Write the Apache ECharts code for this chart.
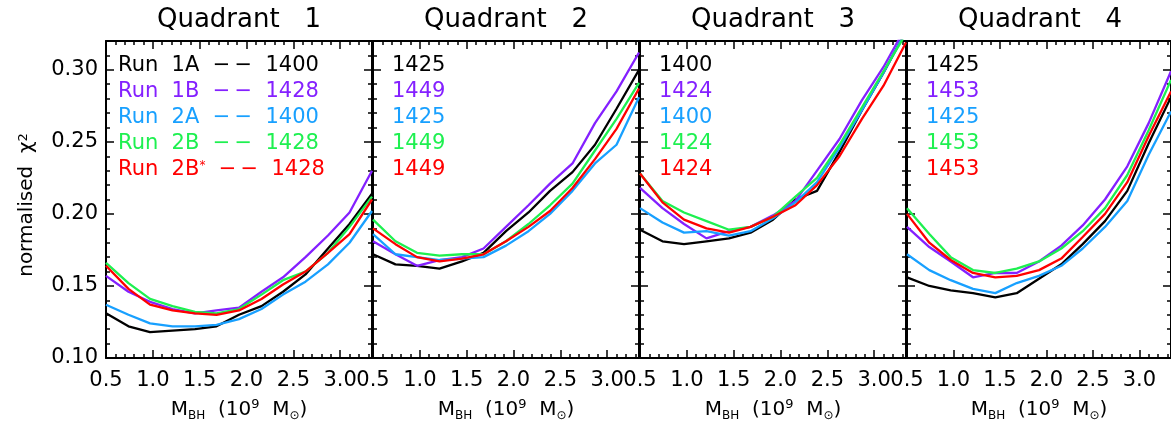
<!DOCTYPE html>
<html>
<head>
<meta charset="utf-8">
<script src="https://cdn.jsdelivr.net/npm/echarts@6/dist/echarts.min.js"></script>
<style>
html, body { margin: 0; padding: 0; background: #fff; }
#chart { width: 1171px; height: 427px; }
</style>
</head>
<body>
<div id="chart"></div>
<script>
// black hole mass grid (10^9 Msun)
var mass = [0.50, 0.74, 0.97, 1.21, 1.45, 1.68, 1.92, 2.16, 2.39, 2.63, 2.87, 3.10, 3.34];

var runs = ['1A', '1B', '2A', '2B', '2B'];
var colors = ['#000000', '#8420ff', '#18a0ff', '#1ef050', '#ff0000'];

// normalised chi^2, one row per run (1A, 1B, 2A, 2B, 2B*)
var quad1 = [
  [0.131, 0.122, 0.118, 0.119, 0.120, 0.122, 0.130, 0.136, 0.146, 0.158, 0.176, 0.193, 0.214],
  [0.157, 0.146, 0.139, 0.134, 0.131, 0.133, 0.135, 0.146, 0.156, 0.170, 0.185, 0.201, 0.230],
  [0.137, 0.130, 0.124, 0.122, 0.122, 0.123, 0.127, 0.134, 0.144, 0.153, 0.165, 0.180, 0.202],
  [0.166, 0.152, 0.141, 0.136, 0.132, 0.131, 0.134, 0.144, 0.154, 0.160, 0.173, 0.191, 0.212],
  [0.164, 0.148, 0.137, 0.133, 0.131, 0.130, 0.133, 0.141, 0.151, 0.160, 0.173, 0.186, 0.210]
];
var quad2 = [
  [0.172, 0.165, 0.164, 0.162, 0.167, 0.173, 0.188, 0.201, 0.216, 0.229, 0.248, 0.273, 0.300],
  [0.181, 0.172, 0.164, 0.168, 0.170, 0.176, 0.191, 0.206, 0.221, 0.235, 0.263, 0.285, 0.312],
  [0.186, 0.172, 0.170, 0.168, 0.169, 0.170, 0.178, 0.188, 0.200, 0.216, 0.235, 0.248, 0.281],
  [0.196, 0.181, 0.173, 0.171, 0.172, 0.172, 0.181, 0.193, 0.206, 0.221, 0.244, 0.266, 0.291],
  [0.190, 0.179, 0.170, 0.167, 0.169, 0.172, 0.181, 0.191, 0.202, 0.218, 0.238, 0.259, 0.287]
];
var quad3 = [
  [0.189, 0.181, 0.179, 0.181, 0.183, 0.187, 0.196, 0.210, 0.216, 0.243, 0.272, 0.298, 0.327],
  [0.218, 0.204, 0.193, 0.183, 0.188, 0.191, 0.199, 0.209, 0.230, 0.252, 0.279, 0.302, 0.330],
  [0.204, 0.194, 0.187, 0.188, 0.185, 0.188, 0.197, 0.208, 0.222, 0.246, 0.272, 0.298, 0.327],
  [0.228, 0.209, 0.201, 0.195, 0.189, 0.191, 0.198, 0.212, 0.225, 0.248, 0.274, 0.299, 0.325],
  [0.228, 0.208, 0.196, 0.190, 0.187, 0.191, 0.198, 0.206, 0.220, 0.240, 0.266, 0.289, 0.319]
];
var quad4 = [
  [0.156, 0.150, 0.147, 0.145, 0.142, 0.145, 0.155, 0.165, 0.179, 0.195, 0.216, 0.249, 0.281],
  [0.191, 0.177, 0.167, 0.156, 0.159, 0.159, 0.167, 0.178, 0.192, 0.210, 0.233, 0.263, 0.299],
  [0.172, 0.161, 0.154, 0.148, 0.145, 0.152, 0.157, 0.164, 0.176, 0.191, 0.209, 0.241, 0.271],
  [0.204, 0.186, 0.170, 0.161, 0.159, 0.162, 0.167, 0.176, 0.188, 0.204, 0.227, 0.258, 0.293],
  [0.200, 0.180, 0.168, 0.159, 0.156, 0.157, 0.161, 0.169, 0.184, 0.200, 0.222, 0.254, 0.285]
];
var quads = [quad1, quad2, quad3, quad4];

// best-fit mass labels written in each panel
var bestQ1 = ['1400', '1428', '1400', '1428', '1428'];
var bestQ2 = ['1425', '1449', '1425', '1449', '1449'];
var bestQ3 = ['1400', '1424', '1400', '1424', '1424'];
var bestQ4 = ['1425', '1453', '1425', '1453', '1453'];
var bests = [bestQ1, bestQ2, bestQ3, bestQ4];

var xTicks = { min: 0.5, max: 3.34, major: 0.5, minor: 0.1 };
var yTicks = { min: 0.10, max: 0.32, major: 0.05, minor: 0.01 };

var FONT = 'DejaVu Sans';
var panelLeft = [106, 373, 640, 907];
var panelW = 266, panelTop = 41, panelH = 321;

var grids = [], xAxes = [], yAxes = [], series = [], graphics = [];

function xAx(g, pos, major) {
  var ax = {
    type: 'value', gridIndex: g, position: pos,
    min: xTicks.min, max: xTicks.max,
    interval: major ? xTicks.major : xTicks.minor,
    axisLine: { show: major, onZero: false, lineStyle: { color: '#000', width: 2 } },
    axisTick: { show: true, inside: true, length: major ? 8 : 4, lineStyle: { color: '#000', width: 1.5 } },
    axisLabel: { show: false },
    splitLine: { show: false }
  };
  if (major && pos === 'bottom') {
    ax.axisLabel = {
      show: true, fontSize: 21, fontFamily: FONT, color: '#000', margin: 12,
      showMaxLabel: false,
      formatter: function (v) { return v.toFixed(1); }
    };
    ax.name = '{a|M}{b|BH}{a|  (10}{c|9}{a|  M}{b|⊙}{a|)}';
    ax.nameLocation = 'middle';
    ax.nameGap = 40;
    ax.nameTextStyle = {
      rich: {
        a: { fontSize: 20, fontFamily: FONT, color: '#000', lineHeight: 24 },
        b: { fontSize: 12, fontFamily: FONT, color: '#000', lineHeight: 16, verticalAlign: 'bottom' },
        c: { fontSize: 13, fontFamily: FONT, color: '#000', lineHeight: 12, verticalAlign: 'top' }
      }
    };
  }
  return ax;
}

function yAx(g, pos, major) {
  var ax = {
    type: 'value', gridIndex: g, position: pos,
    min: yTicks.min, max: yTicks.max,
    interval: major ? yTicks.major : yTicks.minor,
    axisLine: { show: major, onZero: false, lineStyle: { color: '#000', width: 2 } },
    axisTick: { show: true, inside: true, length: major ? 8 : 4, lineStyle: { color: '#000', width: 1.5 } },
    axisLabel: { show: false },
    splitLine: { show: false }
  };
  if (major && pos === 'left' && g === 0) {
    ax.axisLabel = {
      show: true, fontSize: 21, fontFamily: FONT, color: '#000', margin: 8,
      showMaxLabel: false,
      formatter: function (v) { return v.toFixed(2); }
    };
  }
  return ax;
}

for (var g = 0; g < 4; g++) {
  grids.push({ left: panelLeft[g], top: panelTop, width: panelW, height: panelH });
  xAxes.push(xAx(g, 'bottom', true), xAx(g, 'bottom', false), xAx(g, 'top', true), xAx(g, 'top', false));
  yAxes.push(yAx(g, 'left', true), yAx(g, 'left', false), yAx(g, 'right', true), yAx(g, 'right', false));

  for (var r = 0; r < runs.length; r++) {
    var vals = quads[g][r];
    series.push({
      type: 'line',
      name: 'Q' + (g + 1) + ' ' + runs[r],
      xAxisIndex: g * 4, yAxisIndex: g * 4,
      data: mass.map(function (m, i) { return [m, vals[i]]; }),
      symbol: 'none',
      clip: true,
      lineStyle: { color: colors[r], width: 2.3 },
      z: 2 + r
    });
  }

  graphics.push({
    type: 'text', x: panelLeft[g] + panelW / 2, y: 20,
    style: { text: 'Quadrant   ' + (g + 1), fontSize: 26, fontFamily: FONT, fill: '#000', align: 'center', verticalAlign: 'middle' }
  });

  var rowY = [66, 92, 118, 144, 170];
  for (var r2 = 0; r2 < runs.length; r2++) {
    var txt;
    if (g === 0) {
      txt = 'Run  ' + runs[r2] + (r2 === 4 ? '{s|*}' : '') + '  −\u2009−  ' + bests[g][r2];
    } else {
      txt = bests[g][r2];
    }
    graphics.push({
      type: 'text', x: panelLeft[g] + (g === 0 ? 12 : 19), y: rowY[r2],
      style: {
        text: txt, fontSize: 21, fontFamily: FONT, fill: colors[r2], align: 'left', verticalAlign: 'middle',
        rich: { s: { fontSize: 12, fontFamily: FONT, fill: colors[r2], lineHeight: 12, verticalAlign: 'top' } }
      }
    });
  }
}

graphics.push({
  type: 'text', x: 27, y: 205, rotation: Math.PI / 2,
  style: {
    text: 'normalised  χ{s|2}', fontSize: 20, fontFamily: FONT, fill: '#000', align: 'center', verticalAlign: 'middle',
    rich: { s: { fontSize: 13, fontFamily: FONT, fill: '#000', lineHeight: 12, verticalAlign: 'top' } }
  }
});

var chart = echarts.init(document.getElementById('chart'));
chart.setOption({
  animation: false,
  backgroundColor: '#fff',
  grid: grids,
  xAxis: xAxes,
  yAxis: yAxes,
  series: series,
  graphic: graphics
});
</script>
</body>
</html>
